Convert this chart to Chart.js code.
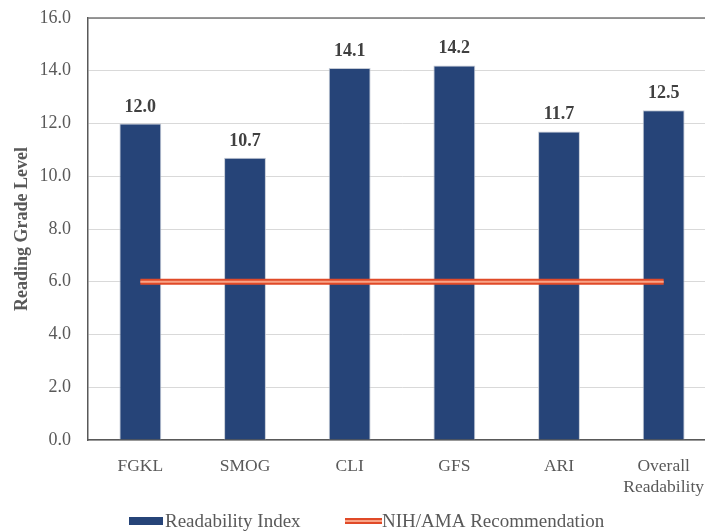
<!DOCTYPE html>
<html>
<head>
<meta charset="utf-8">
<script src="https://cdn.jsdelivr.net/npm/chart.js@4/dist/chart.umd.min.js"></script>
<style>
  html, body { margin: 0; padding: 0; background: #fff; overflow: hidden; }
  #wrap { width: 716px; height: 532px; }
</style>
</head>
<body>
<div id="wrap"><canvas id="c" width="716" height="532"></canvas></div>
<script>
// Readability scores per index, with the recommended grade level for comparison
const categories = ['FGKL', 'SMOG', 'CLI', 'GFS', 'ARI', ['Overall', 'Readability']];
const readabilityIndex = [12.0, 10.7, 14.1, 14.2, 11.7, 12.5];
const recommendation = [6.0, 6.0, 6.0, 6.0, 6.0, 6.0];
const yTicks = [0, 2, 4, 6, 8, 10, 12, 14, 16];

const SERIF = '"Liberation Serif", "Times New Roman", serif';
const BAR_BLUE = '#264478';
const LINE_RED = '#e04a28';
const LINE_INNER = '#f9a487';
const TEXT_GRAY = '#595959';

// Value labels above the bars
const barLabels = {
  id: 'barLabels',
  afterDatasetsDraw(chart) {
    const ctx = chart.ctx;
    const meta = chart.getDatasetMeta(0);
    ctx.save();
    ctx.font = 'bold 18px ' + SERIF;
    ctx.fillStyle = '#404040';
    ctx.textAlign = 'center';
    ctx.textBaseline = 'alphabetic';
    meta.data.forEach((bar, i) => {
      const v = chart.data.datasets[0].data[i];
      ctx.fillText(v.toFixed(1), bar.x, bar.y - 12);
    });
    ctx.restore();
  }
};

// Light centre stripe that turns the recommendation line into a double line
const doubleLine = {
  id: 'doubleLine',
  afterDatasetsDraw(chart) {
    const meta = chart.getDatasetMeta(1);
    const pts = meta.data;
    if (!pts.length) return;
    const ctx = chart.ctx;
    ctx.save();
    ctx.strokeStyle = LINE_INNER;
    ctx.lineWidth = 2;
    ctx.beginPath();
    pts.forEach((p, i) => (i ? ctx.lineTo(p.x, p.y) : ctx.moveTo(p.x, p.y)));
    ctx.stroke();
    ctx.restore();
  }
};

// Top frame line of the plot area
const frame = {
  id: 'frame',
  beforeDatasetsDraw(chart) {
    const a = chart.chartArea;
    const ctx = chart.ctx;
    ctx.save();
    ctx.strokeStyle = '#767676';
    ctx.lineWidth = 1.5;
    ctx.beginPath();
    ctx.moveTo(a.left, a.top);
    ctx.lineTo(a.right, a.top);
    ctx.stroke();
    ctx.restore();
  }
};

// Legend drawn under the axis labels
const bottomLegend = {
  id: 'bottomLegend',
  afterDraw(chart) {
    const ctx = chart.ctx;
    const ds = chart.data.datasets;
    const y = 521;
    ctx.save();
    ctx.font = '19px ' + SERIF;
    ctx.textBaseline = 'middle';
    // bar swatch
    ctx.fillStyle = BAR_BLUE;
    ctx.fillRect(129, y - 4, 34, 8);
    ctx.fillStyle = TEXT_GRAY;
    ctx.fillText(ds[0].label, 165, y + 1);
    // double line swatch
    ctx.fillStyle = LINE_RED;
    ctx.fillRect(345, y - 3, 37, 6);
    ctx.fillStyle = LINE_INNER;
    ctx.fillRect(345, y - 1, 37, 2);
    ctx.fillStyle = TEXT_GRAY;
    ctx.fillText(ds[1].label, 382, y + 1);
    ctx.restore();
  }
};

new Chart(document.getElementById('c'), {
  data: {
    labels: categories,
    datasets: [
      {
        type: 'bar',
        label: 'Readability Index',
        data: readabilityIndex,
        backgroundColor: BAR_BLUE,
        borderColor: 'rgba(190,196,208,0.9)',
        borderWidth: 1,
        barPercentage: 0.4,
        categoryPercentage: 1.0,
        order: 2
      },
      {
        type: 'line',
        label: 'NIH/AMA Recommendation',
        data: recommendation,
        borderColor: LINE_RED,
        borderWidth: 6,
        pointRadius: 0,
        fill: false,
        tension: 0,
        order: 1
      }
    ]
  },
  options: {
    responsive: false,
    animation: false,
    layout: { padding: { top: 18, right: 0, left: 0, bottom: 0 } },
    plugins: {
      legend: { display: false },
      tooltip: { enabled: false }
    },
    scales: {
      x: {
        grid: { display: false },
        border: { display: true, color: '#595959', width: 1.5 },
        ticks: {
          color: TEXT_GRAY,
          font: { family: SERIF, size: 17.5 },
          padding: 8,
          maxRotation: 0,
          autoSkip: false
        },
        afterFit(scale) {
          scale.height = 92;
          scale.paddingLeft = 0;
          scale.paddingRight = 0;
        }
      },
      y: {
        min: 0,
        max: 16,
        afterBuildTicks(scale) { scale.ticks = yTicks.map(v => ({ value: v })); },
        grid: { color: '#d9d9d9', lineWidth: 1, drawTicks: false },
        border: { display: true, color: '#595959', width: 1.5 },
        ticks: {
          color: TEXT_GRAY,
          font: { family: SERIF, size: 18 },
          padding: 17,
          callback: v => Number(v).toFixed(1)
        },
        title: {
          display: true,
          text: 'Reading Grade Level',
          color: TEXT_GRAY,
          font: { family: SERIF, size: 18, weight: 'bold' },
          padding: { top: 12, bottom: 0 }
        },
        afterFit(scale) {
          scale.width = 88;
          scale.paddingTop = 0;
          scale.paddingBottom = 0;
        }
      }
    }
  },
  plugins: [frame, barLabels, doubleLine, bottomLegend]
});
</script>
</body>
</html>
